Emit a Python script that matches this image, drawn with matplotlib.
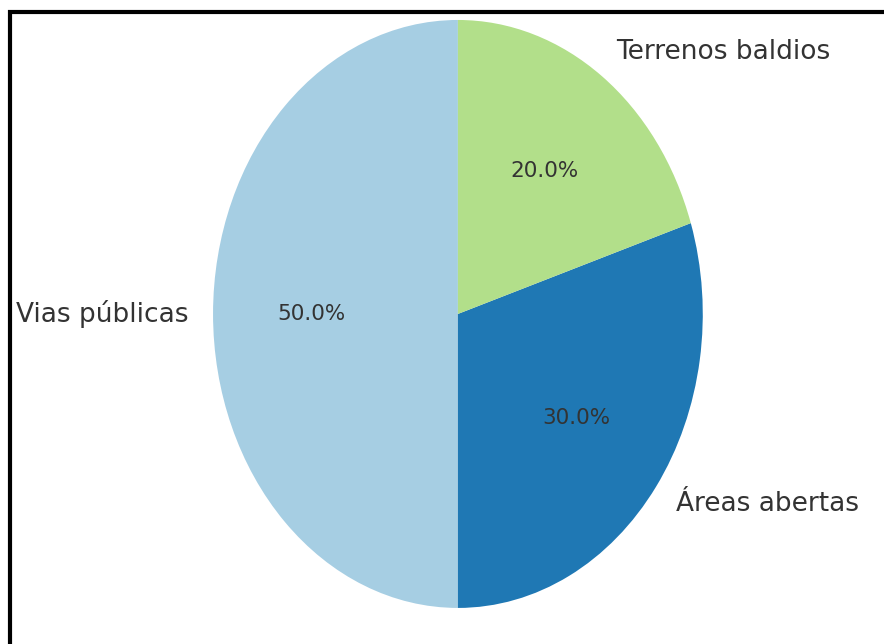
import matplotlib
matplotlib.use("Agg")
import matplotlib.pyplot as plt
from matplotlib.patches import Rectangle

# ---- data ----
labels = ["Vias públicas", "Áreas abertas", "Terrenos baldios"]
shares = [50, 30, 20]
colors = ["#a6cee3", "#1f78b4", "#b2df8a"]
# --------------

fig = plt.figure(figsize=(8.84, 6.44), dpi=100)
ax = fig.add_axes([0.241, 0.056, 0.554, 0.913])

wedges, texts, autotexts = ax.pie(
    shares, labels=labels, colors=colors, autopct="%1.1f%%",
    startangle=90, textprops={"color": "#333333"})
for t in texts:
    t.set_fontsize(19)
for t in autotexts:
    t.set_fontsize(15.5)

ax.set_aspect("auto")
ax.set_xlim(-1, 1)
ax.set_ylim(-1, 1)

# black frame (top and left edges visible, as in the screenshot)
fig.patches.append(Rectangle((0.011, -0.1), 1.2, 1.081, transform=fig.transFigure,
                             fill=False, edgecolor="black", linewidth=3))

fig.savefig("out.png", dpi=100)
